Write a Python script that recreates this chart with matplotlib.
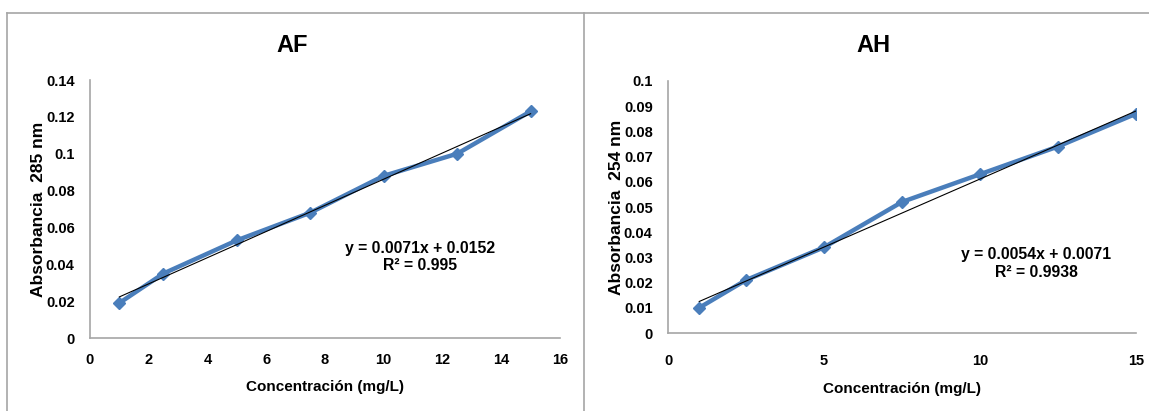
import numpy as np
import matplotlib
matplotlib.use("Agg")
import matplotlib.pyplot as plt
from matplotlib.lines import Line2D

plt.rcParams['font.family'] = ['Liberation Sans', 'DejaVu Sans']
plt.rcParams['font.weight'] = 'bold'

# ---------------- data ----------------
conc = [1, 2.5, 5, 7.5, 10, 12.5, 15]
abs_af = [0.019, 0.035, 0.053, 0.068, 0.088, 0.100, 0.123]
abs_ah = [0.010, 0.021, 0.034, 0.052, 0.063, 0.074, 0.087]

fit_af = (0.0071, 0.0152)
fit_ah = (0.0054, 0.0071)
eq_af = ["y = 0.0071x + 0.0152", "R² = 0.995"]
eq_ah = ["y = 0.0054x + 0.0071", "R² = 0.9938"]

W, H = 1149, 411
blue = "#4a7ebb"
grey = "#a6a6a6"

fig = plt.figure(figsize=(W / 100, H / 100), dpi=100)


def px_ax(x0, x1, ytop, ybot):
    return fig.add_axes([x0 / W, 1 - ybot / H, (x1 - x0) / W, (ybot - ytop) / H])


def style(ax, xpad):
    for s in ("top", "right"):
        ax.spines[s].set_visible(False)
    for s in ("left", "bottom"):
        ax.spines[s].set_color(grey)
        ax.spines[s].set_linewidth(1.2)
    ax.tick_params(length=0, labelsize=10.5, pad=11)
    ax.tick_params(axis="x", pad=xpad)
    for lab in ax.get_xticklabels() + ax.get_yticklabels():
        lab.set_fontweight("bold")


def draw(ax, y, fit, eq, ylabel, xlim, xticks, ylim, yticks, ylabels, eqpos, xpad, xlpad):
    ax.plot(conc, y, color=blue, lw=3.2, marker="D", ms=6, zorder=2)
    xs = np.array([conc[0], conc[-1]])
    ax.plot(xs, fit[0] * xs + fit[1], color="black", lw=0.8, zorder=3)
    ax.set_xlim(*xlim)
    ax.set_ylim(*ylim)
    ax.set_xticks(xticks)
    ax.set_yticks(yticks)
    ax.set_yticklabels(ylabels)
    style(ax, xpad)
    ax.set_xlabel("Concentración (mg/L)", fontsize=11, fontweight="bold", labelpad=xlpad)
    ax.set_ylabel(ylabel, fontsize=12.5, fontweight="bold", labelpad=0)
    ax.text(eqpos[0], eqpos[1], eq[0] + "\n" + eq[1], transform=ax.transAxes,
            ha="center", va="center", fontsize=11.3, fontweight="bold",
            linespacing=1.25)


ax1 = px_ax(90, 560, 80, 338)
draw(ax1, abs_af, fit_af, eq_af, "Absorbancia  285 nm",
     (0, 16), range(0, 17, 2), (0, 0.14),
     np.arange(0, 0.141, 0.02), ["0", "0.02", "0.04", "0.06", "0.08", "0.1", "0.12", "0.14"],
     ((420 - 90) / 470, 1 - (257 - 80) / 258), 11, 9)

ax2 = px_ax(668, 1136, 81, 333)
draw(ax2, abs_ah, fit_ah, eq_ah, "Absorbancia  254 nm",
     (0, 15), [0, 5, 10, 15], (0, 0.1),
     np.arange(0, 0.101, 0.01),
     ["0", "0.01", "0.02", "0.03", "0.04", "0.05", "0.06", "0.07", "0.08", "0.09", "0.1"],
     ((1036 - 668) / 468, 1 - (263 - 81) / 252), 15, 10)

# titles, centred on each panel
fig.text(292 / W, 1 - 45 / H, "AF", ha="center", va="center", fontsize=17, fontweight="bold")
fig.text(873 / W, 1 - 45 / H, "AH", ha="center", va="center", fontsize=17, fontweight="bold")

# panel borders
for (x0, y0, x1, y1) in [(7, 13, 1149, 13), (7, 13, 7, 411), (584, 13, 584, 411)]:
    fig.add_artist(Line2D([x0 / W, x1 / W], [1 - y0 / H, 1 - y1 / H],
                          color=grey, lw=1.2, transform=fig.transFigure))

fig.savefig("out.png", dpi=100)
